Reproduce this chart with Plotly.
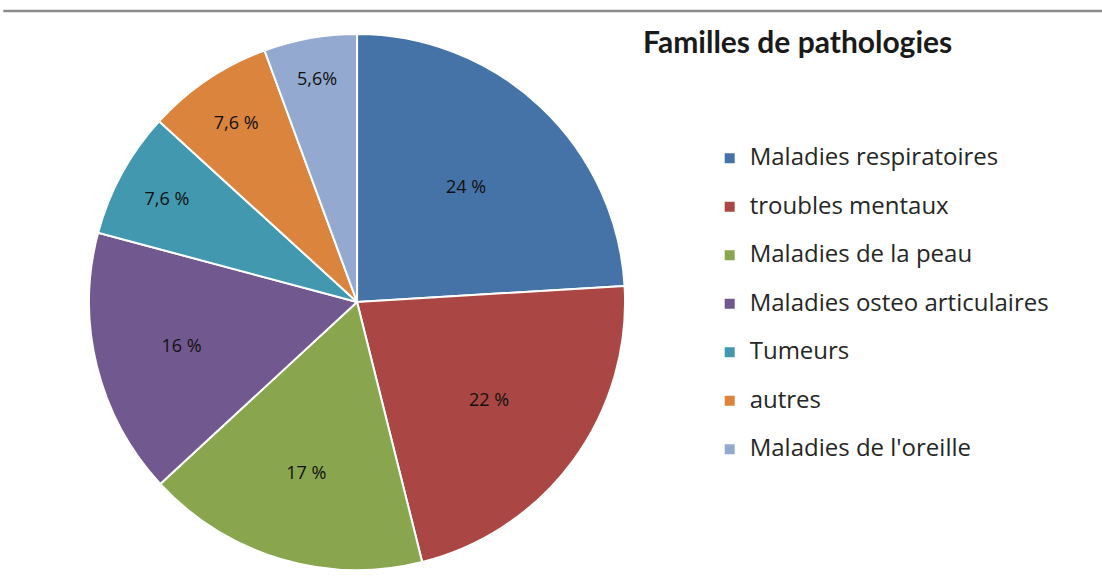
import plotly.graph_objects as go

categories = [
    "Maladies respiratoires",
    "troubles mentaux",
    "Maladies de la peau",
    "Maladies osteo articulaires",
    "Tumeurs",
    "autres",
    "Maladies de l'oreille",
]
values = [24, 22, 17, 16, 7.6, 7.6, 5.6]
slice_text = ["24 %", "22 %", "17 %", "16 %", "7,6 %", "7,6 %", "5,6%"]
colors = ["#4572A7", "#AA4643", "#89A54E", "#71588F", "#4198AF", "#DB843D", "#93A9CF"]

# legend entries: larger text, extra empty line to reproduce the wide spacing
legend_labels = [f"<span style='font-size:24px'>{c}</span><br>" for c in categories]

fig = go.Figure()
fig.add_trace(go.Pie(
    labels=legend_labels,
    values=values,
    text=slice_text,
    texttemplate="%{text}",
    textinfo="text",
    textposition="inside",
    insidetextorientation="horizontal",
    textfont=dict(family="Open Sans", size=18, color="#111111"),
    sort=False,
    direction="clockwise",
    rotation=0,
    marker=dict(colors=colors, line=dict(color="white", width=2)),
    hoverinfo="skip",
    domain=dict(x=[0.0808, 0.5672], y=[0.0256, 0.9419]),
))

fig.update_layout(
    width=1102, height=585,
    margin=dict(l=0, r=0, t=0, b=0),
    paper_bgcolor="white",
    plot_bgcolor="white",
    font=dict(family="Open Sans", color="#262626"),
    title=dict(
        text="<b>Familles de pathologies</b>",
        x=0.5835, xanchor="left", xref="paper",
        y=0.928, yanchor="middle", yref="paper",
        font=dict(family="Lato", size=30, color="#1a1a1a"),
    ),
    legend=dict(
        x=0.644, xanchor="left",
        y=0.760, yanchor="top",
        font=dict(family="Open Sans", size=17.5, color="#262626"),
        valign="top",
        bgcolor="rgba(0,0,0,0)",
        borderwidth=0,
    ),
    shapes=[dict(
        type="line", xref="paper", yref="paper",
        x0=0.003, x1=1.0, y0=0.981, y1=0.981,
        line=dict(color="#8c8c8c", width=2.5),
    )],
)

fig.write_html(
    "out.html",
    config={"displayModeBar": False},
    post_script="document.body.style.margin='0';",
)
